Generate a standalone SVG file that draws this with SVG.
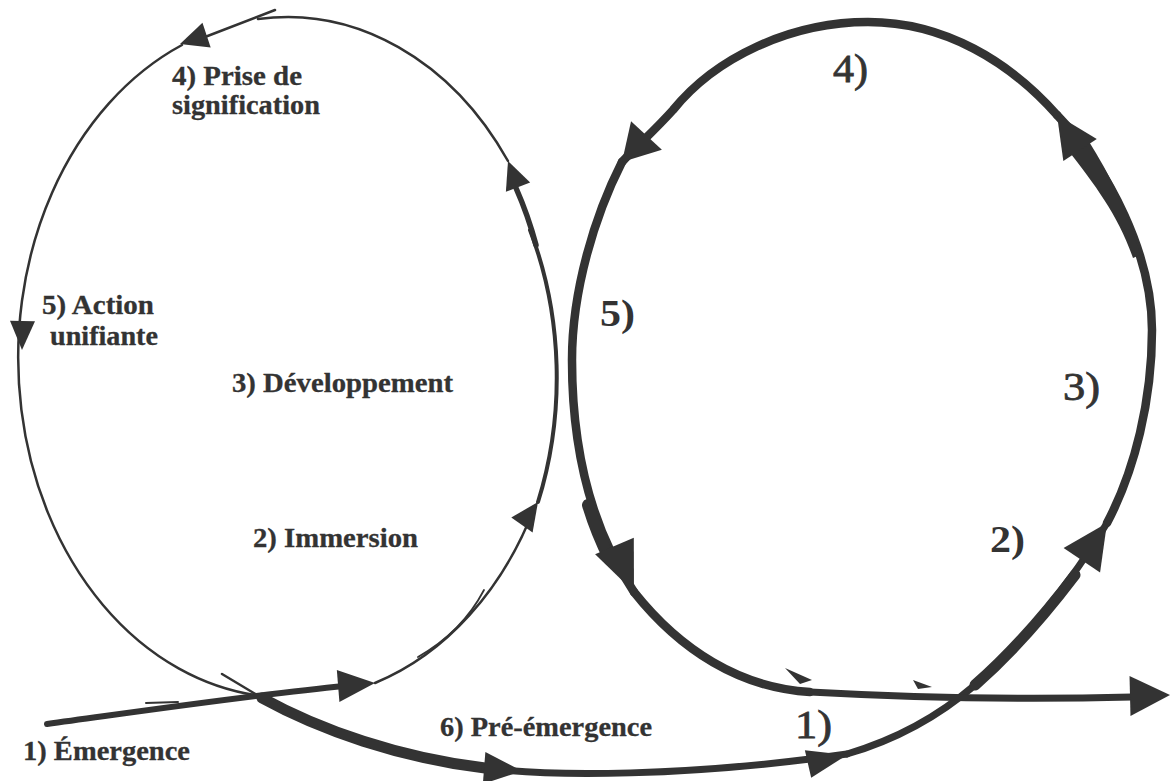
<svg xmlns="http://www.w3.org/2000/svg" xmlns:xlink="http://www.w3.org/1999/xlink" width="1170" height="781" viewBox="0 0 1170 781">
  <style>
    .ln { fill: none; stroke: #333; stroke-linecap: round; stroke-linejoin: round; }
    .thin { stroke-width: 2.5; }
    .mid { stroke-width: 4; }
    .thick { stroke-width: 8.5; }
    .ink { fill: #333; }
    .lbl { font-family: "Liberation Serif", "Times New Roman", serif; font-weight: bold; font-size: 27.5px; fill: #333; stroke: #333; stroke-width: 0.3; }
    .num { font-family: "Liberation Serif", "Times New Roman", serif; font-size: 39px; fill: #333; stroke: #333; stroke-width: 0.8; }
    .numb { font-family: "Liberation Serif", "Times New Roman", serif; font-weight: bold; font-size: 37px; fill: #333; }
  </style>
  <defs>
    <!-- unit arrowhead: tip at origin, pointing along +x -->
    <path id="ah" d="M0,0 L-1,-1 L-1,1 Z"/>
  </defs>
  <rect width="1170" height="781" fill="#fff"/>

  <g id="connectors">
    <!-- first loop (thin oval) -->
    <g id="loop-left">
      <!-- 1) entry stroke -->
      <path class="ln" stroke-width="6" d="M47,724 C150,710 260,694 345,686"/>
      <path class="ln" stroke-width="2" d="M146,703 L178,702"/>
      <!-- rising lower right side -->
      <path class="ln thin" d="M375,683 A270,340 0 0 0 535,506"/>
      <path class="ln" stroke-width="1.8" d="M418,657 Q462,632 484,590"/>
      <!-- right side, thickening upward -->
      <path class="ln mid" d="M538,502 A270,340 0 0 0 530,230"/>
      <path class="ln" stroke-width="5.5" d="M536,245 A270,340 0 0 0 516,188"/>
      <!-- top arc -->
      <path class="ln thin" d="M508,161 A270,340 0 0 0 258,19"/>
      <path class="ln thin" d="M275,10 L205,37"/>
      <!-- left side down to the bottom -->
      <path class="ln thin" d="M182,45 A270,340 0 0 0 262,696"/>
      <use xlink:href="#ah" class="ink" transform="translate(180,44) rotate(161.6) scale(28,13)"/>
      <use xlink:href="#ah" class="ink" transform="translate(22,350) rotate(91) scale(29,12.5)"/>
      <use xlink:href="#ah" class="ink" transform="translate(508,161) rotate(-111) scale(28,13)"/>
      <use xlink:href="#ah" class="ink" transform="translate(538,502) rotate(-55) scale(28,13)"/>
      <use xlink:href="#ah" class="ink" transform="translate(375,683) rotate(-4.6) scale(37,16)"/>
    </g>

    <!-- second loop (heavy circle) -->
    <g id="loop-right">
      <!-- 6) crossing stroke -->
      <path class="ln" stroke-width="2.5" d="M222,674 L262,698"/>
      <path class="ln" stroke-width="11" d="M262,698 C320,730 400,758 485,768"/>
      <path class="ln" stroke-width="7" d="M485,768 C560,778 690,774 810,759 L847,754"/>
      <!-- rising bottom right -->
      <path class="ln" stroke-width="7" d="M847,754 C895,740 940,715 975,685 C1015,650 1070,585 1107,523"/>
      <path class="ln" stroke-width="11" d="M975,685 C1015,650 1050,608 1075,575"/>
      <!-- right side -->
      <path class="ln thick" d="M1107,523 C1135,470 1152,400 1152,330 C1152,255 1110,170 1057,115"/>
      <path class="ink" d="M1068,150 L1088,140 C1110,175 1128,210 1140,255 L1133,258 C1118,215 1095,185 1068,150 Z"/>
      <!-- top arc -->
      <path class="ln thick" d="M1057,115 C1010,62 945,22 868,22 C790,22 715,58 673,110 C655,130 638,145 622,162"/>
      <!-- left side -->
      <path class="ln thick" d="M622,162 C595,215 572,290 572,360 C572,450 592,530 634,592"/>
      <path class="ln" stroke-width="12" d="M588,505 C594,525 600,540 610,560"/>
      <!-- bottom and exit -->
      <path class="ln thick" d="M634,592 C680,650 740,688 810,692"/>
      <path class="ln" stroke-width="7" d="M810,692 C900,697 1010,700 1132,697"/>
      <path class="ink" d="M785,668 L812,680 L800,684 Z"/>
      <path class="ink" d="M913,680 L932,687 L918,689 Z"/>
      <use xlink:href="#ah" class="ink" transform="translate(522,771) rotate(4.5) scale(38,16)"/>
      <use xlink:href="#ah" class="ink" transform="translate(847,755) rotate(-13) scale(40,14)"/>
      <use xlink:href="#ah" class="ink" transform="translate(1107,523) rotate(-56) scale(45,22)"/>
      <use xlink:href="#ah" class="ink" transform="translate(1057,115) rotate(-123.3) scale(42,20)"/>
      <use xlink:href="#ah" class="ink" transform="translate(622,162) rotate(132.8) scale(36,21)"/>
      <use xlink:href="#ah" class="ink" transform="translate(634,592) rotate(67) scale(50,21)"/>
      <use xlink:href="#ah" class="ink" transform="translate(1170,695) rotate(-1.4) scale(40,20)"/>
    </g>
  </g>

  <!-- stage labels of the first loop -->
  <g id="stage-emergence"><text class="lbl" x="23" y="760" textLength="167" lengthAdjust="spacingAndGlyphs">1) Émergence</text></g>
  <g id="stage-immersion"><text class="lbl" x="253" y="547" textLength="165" lengthAdjust="spacingAndGlyphs">2) Immersion</text></g>
  <g id="stage-developpement"><text class="lbl" x="232" y="392" textLength="221" lengthAdjust="spacingAndGlyphs">3) Développement</text></g>
  <g id="stage-signification">
    <text class="lbl" x="172" y="85" textLength="130" lengthAdjust="spacingAndGlyphs">4) Prise de</text>
    <text class="lbl" x="172" y="114" textLength="148" lengthAdjust="spacingAndGlyphs">signification</text>
  </g>
  <g id="stage-action">
    <text class="lbl" x="42" y="314" textLength="112" lengthAdjust="spacingAndGlyphs">5) Action</text>
    <text class="lbl" x="50" y="345" textLength="108" lengthAdjust="spacingAndGlyphs">unifiante</text>
  </g>
  <g id="stage-preemergence"><text class="lbl" x="440" y="736" textLength="212" lengthAdjust="spacingAndGlyphs">6) Pré-émergence</text></g>

  <!-- step numbers of the second loop -->
  <g id="step-1"><text class="num" x="795" y="738" textLength="37" lengthAdjust="spacingAndGlyphs">1)</text></g>
  <g id="step-2"><text class="numb" x="990" y="552" textLength="35" lengthAdjust="spacingAndGlyphs">2)</text></g>
  <g id="step-3"><text class="num" x="1063" y="400" textLength="37" lengthAdjust="spacingAndGlyphs">3)</text></g>
  <g id="step-4"><text class="num" x="833" y="82" textLength="35" lengthAdjust="spacingAndGlyphs">4)</text></g>
  <g id="step-5"><text class="numb" x="600" y="326" textLength="35" lengthAdjust="spacingAndGlyphs">5)</text></g>
</svg>
